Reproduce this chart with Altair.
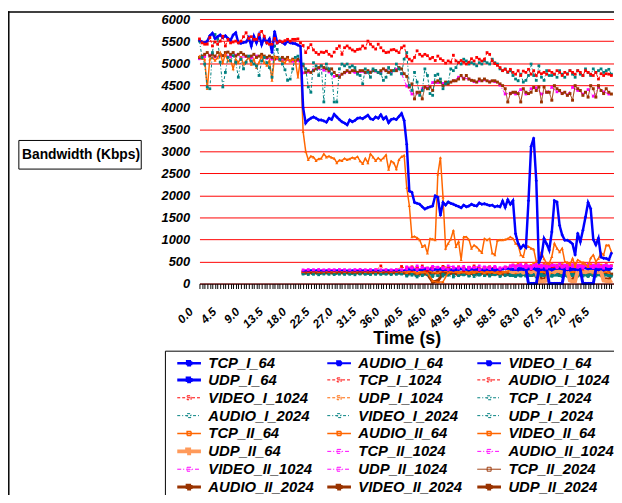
import altair as alt
import pandas as pd

SERIES = ["TCP_I_64", "AUDIO_I_64", "VIDEO_I_64", "UDP_I_64",
          "TCP_I_1024", "AUDIO_I_1024", "VIDEO_I_1024", "UDP_I_1024",
          "TCP_I_2024", "AUDIO_I_2024", "VIDEO_I_2024", "UDP_I_2024",
          "TCP_II_64", "AUDIO_II_64", "VIDEO_II_64", "UDP_II_64",
          "TCP_II_1024", "AUDIO_II_1024", "VIDEO_II_1024", "UDP_II_1024",
          "TCP_II_2024", "AUDIO_II_2024", "VIDEO_II_2024", "UDP_II_2024"]
COLORS = ["#0000FF"] * 4 + ["#FF0000"] * 3 + ["#FF6600"] + ["#008080"] * 4 + \
         ["#FF6600"] * 3 + ["#FF9A5A"] + ["#FF00FF"] * 4 + ["#993300"] * 4
WIDTHS = [2.5, 2, 2, 3] + [1] * 4 + [1] * 4 + [1.5, 1.5, 1.5, 4] + [1] * 4 + [1, 3, 3, 3]
DASHES = [[1, 0]] * 4 + [[3, 2]] * 4 + [[3, 2, 1, 2]] * 4 + [[1, 0]] * 4 + \
         [[4, 2, 1, 2]] * 4 + [[1, 0]] * 4
SHAPES = ["diamond"] * 4 + ["square"] * 8 + ["triangle-up"] * 4 + ["square"] * 8
MSIZES = [12, 9, 9, 12] + [8] * 8 + [10, 10, 10, 14] + [8] * 4 + [9, 12, 12, 12]

# main TCP flows, every 0.5 s from 0 to 79.5 s
TCP_I_64 = [
    5520, 5480, 5460, 5500, 5620, 5680, 5560, 5600, 5640, 5580,
    5620, 5560, 5520, 5640, 5690, 5460, 5450, 5470, 5480, 5580,
    5390, 5610, 5460, 5640, 5420, 5580, 5460, 5550, 5240, 5720,
    5460, 5500, 5470, 5430, 5500, 5460, 5450, 5440, 5410, 5380,
    3990, 3640, 3710, 3750, 3780, 3750, 3710, 3710, 3690, 3660,
    3750, 3720, 3840, 3780, 3720, 3670, 3640, 3600, 3710, 3670,
    3700, 3750, 3760, 3740, 3780, 3820, 3740, 3720, 3780, 3750,
    3830, 3730, 3780, 3650, 3720, 3740, 3720, 3790, 3860, 3700,
    3160, 2100, 2070, 1840, 1820, 1800, 1740, 1690, 1720, 1740,
    1760, 1990, 1960, 1550, 1840, 1780, 1850, 1820, 1800, 1770,
    1750, 1720, 1780, 1740, 1760, 1800, 1770, 1760, 1830, 1800,
    1810, 1790, 1770, 1780, 1740, 1760, 1740, 1870, 1730, 1900,
    1800, 1880, 1130, 910, 800, 870, 820, 1880, 3110, 3300,
    2330, 470, 610, 1020, 900, 760, 1170, 1880, 1850, 1320,
    1100, 985, 985, 950, 900, 650, 1140, 950, 1210, 1510,
    1840, 1700, 1000, 880, 1030, 600, 575, 570, 540, 690]
TCP_I_1024 = [
    5550, 5460, 5430, 5430, 5580, 5390, 5480, 5430, 5500, 5610,
    5390, 5540, 5460, 5480, 5500, 5460, 5500, 5600, 5690, 5560,
    5600, 5540, 5540, 5650, 5720, 5610, 5460, 5430, 5430, 5560,
    5460, 5500, 5480, 5510, 5540, 5500, 5540, 5540, 5550, 5460,
    5400, 5240, 5350, 5420, 5300, 5240, 5200, 5250, 5240, 5270,
    5200, 5160, 5250, 5330, 5390, 5200, 5350, 5390, 5340, 5300,
    5270, 5310, 5320, 5390, 5340, 5500, 5430, 5370, 5320, 5430,
    5350, 5280, 5240, 5250, 5300, 5310, 5280, 5240, 5350, 5390,
    5150, 5090, 5050, 5130, 5280, 5200, 5160, 5200, 5170, 5100,
    5130, 5060, 5160, 5100, 5060, 5000, 5050, 5020, 5180, 5050,
    5010, 5060, 5020, 4980, 5020, 5100, 5050, 5130, 5090, 5050,
    5090, 5240, 5200, 5050, 4990, 4950, 4900, 4830, 4860, 4800,
    4860, 4790, 4750, 4830, 4720, 4820, 4790, 4860, 4750, 4830,
    4720, 4800, 4760, 4790, 4750, 4830, 4790, 4750, 4830, 4790,
    4720, 4790, 4750, 4830, 4790, 4750, 4830, 4790, 4720, 4830,
    4790, 4750, 4720, 4790, 4640, 4760, 4720, 4760, 4750, 4720]
TCP_I_2024 = [
    5500, 5130, 4980, 4460, 4420, 5240, 5650, 5550, 5020, 4460,
    4790, 5130, 5050, 5170, 5020, 4680, 5090, 4870, 5020, 5160,
    5050, 4980, 4940, 4720, 5050, 5130, 5010, 4900, 4680, 5390,
    5310, 5090, 4980, 4850, 4610, 4640, 4870, 5130, 5160, 5050,
    4980, 4870, 4460, 4340, 5010, 4940, 4720, 4940, 4120, 4980,
    4870, 4760, 4120, 4120, 4870, 4980, 4940, 4980, 4910, 4940,
    4900, 4750, 4720, 4530, 4870, 4790, 4680, 4870, 4830, 4790,
    4760, 4610, 4680, 4900, 4750, 4830, 4980, 4870, 4760, 5090,
    5240, 4500, 4380, 4790, 4570, 4270, 4380, 4870, 4720, 4310,
    4270, 4720, 4750, 4640, 4420, 4530, 4570, 4870, 4830, 4900,
    5020, 4980, 5090, 5050, 4980, 5010, 4980, 4940, 5010, 4980,
    5050, 5010, 4980, 5090, 5010, 4980, 4870, 4830, 4870, 4790,
    4830, 4720, 4640, 4600, 4750, 4570, 4610, 4720, 4980, 4720,
    4610, 4940, 4680, 4610, 4830, 4720, 4720, 4750, 4680, 4830,
    4750, 4680, 4760, 4830, 4750, 4680, 4830, 4750, 4720, 4870,
    4790, 4720, 4870, 4790, 4830, 4870, 4790, 4830, 4860, 4750]
TCP_II_64 = [
    5160, 5100, 5090, 4420, 5090, 5130, 5060, 5120, 5240, 5010,
    5200, 5050, 5080, 4870, 5090, 5010, 5130, 4980, 5050, 5130,
    4970, 5090, 4900, 5020, 5160, 5010, 4950, 5060, 4610, 5160,
    5120, 5060, 5040, 5010, 5100, 5050, 5080, 5060, 4680, 5090,
    3450, 3000, 2810, 2890, 2870, 2790, 2830, 2840, 2940, 2870,
    2890, 2860, 2840, 2740, 2800, 2790, 2840, 2810, 2830, 2860,
    2840, 2880, 2780, 2720, 2840, 2740, 2940, 2870, 2790, 2850,
    2800, 2850, 2920, 2590, 2780, 2740, 2600, 2810, 2880, 2910,
    2180, 1770, 1060, 1070, 1040, 990, 840, 870, 690, 1020,
    1010, 990, 2480, 2860, 1960, 800, 910, 1010, 1210, 840,
    950, 540, 1060, 1060, 1000, 800, 870, 830, 760, 700,
    1020, 990, 1020, 690, 650, 980, 990, 990, 1000, 1020,
    1060, 1020, 910, 870, 650, 610, 870, 840, 800, 780,
    500, 530, 720, 560, 460, 460, 610, 910, 800, 720,
    800, 500, 480, 430, 570, 390, 540, 500, 460, 440,
    390, 580, 650, 500, 570, 700, 650, 870, 870, 720]
TCP_II_2024 = [
    5130, 5160, 5200, 5240, 5160, 5200, 5160, 5240, 5200, 5170,
    5240, 5250, 5200, 5240, 5160, 5200, 5240, 5200, 5160, 5130,
    5160, 5200, 5130, 5160, 5200, 5160, 5130, 5160, 5130, 5090,
    5130, 5090, 5130, 5090, 5130, 5050, 5090, 5050, 5090, 5050,
    4950, 4790, 4830, 4790, 4830, 4870, 4900, 4940, 4900, 4870,
    4830, 4870, 4790, 4720, 4680, 4750, 4790, 4830, 4790, 4830,
    4830, 4790, 4830, 4830, 4790, 4830, 4790, 4830, 4830, 4790,
    4830, 4870, 4830, 4790, 4830, 4830, 4830, 4900, 4870, 4760,
    4700, 4460, 4530, 4190, 4340, 4340, 4190, 4460, 4420, 4460,
    4380, 4570, 4600, 4570, 4490, 4570, 4530, 4570, 4600, 4600,
    4640, 4720, 4640, 4720, 4640, 4610, 4600, 4570, 4640, 4600,
    4640, 4600, 4570, 4600, 4600, 4570, 4530, 4490, 4420, 4120,
    4310, 4340, 4340, 4310, 4120, 4420, 4340, 4310, 4340, 4450,
    4380, 4460, 4120, 4460, 4340, 4340, 4160, 4490, 4420, 4380,
    4310, 4340, 4270, 4310, 4160, 4490, 4420, 4380, 4270, 4340,
    4230, 4490, 4420, 4230, 4490, 4380, 4310, 4420, 4340, 4300]
# every 1 s from 0 to 79 s
TCP_II_1024 = [
    5100, 5150, 5180, 5140, 5170, 5200, 5150, 5180, 5130, 5150,
    5120, 5160, 5140, 5110, 5090, 5100, 5060, 5080, 5040, 5060,
    4780, 4800, 4850, 4880, 4840, 4800, 4700, 4720, 4780, 4800,
    4790, 4810, 4780, 4800, 4820, 4790, 4840, 4800, 4860, 4760,
    4480, 4300, 4320, 4420, 4440, 4560, 4560, 4540, 4560, 4600,
    4680, 4660, 4640, 4580, 4600, 4620, 4580, 4580, 4500, 4300,
    4320, 4300, 4400, 4300, 4420, 4440, 4300, 4340, 4450, 4350,
    4320, 4280, 4450, 4380, 4300, 4400, 4250, 4450, 4350, 4300]

# audio flows, every 1 s from 20 to 79 s
AUDIO_I_64 = [
    290, 300, 305, 300, 298, 302, 300, 305, 300, 298, 302, 305, 300, 303, 300, 298, 305, 300, 302, 300,
    310, 320, 300, 315, 330, 305, 320, 310, 325, 300, 315, 330, 310, 320, 305, 325, 315, 300, 320, 330,
    340, 320, 350, 310, 330, 360, 320, 340, 300, 350, 330, 310, 345, 320, 360, 330, 340, 310, 350, 330]
AUDIO_I_1024 = [
    280, 285, 290, 285, 288, 282, 290, 285, 288, 290, 285, 288, 292, 285, 290, 400, 288, 285, 290, 388,
    330, 300, 350, 310, 290, 340, 320, 300, 360, 310, 330, 290, 350, 320, 300, 340, 310, 330, 300, 350,
    360, 330, 380, 340, 320, 370, 350, 330, 390, 340, 360, 320, 370, 350, 330, 380, 340, 360, 330, 370]
AUDIO_I_2024 = [
    215, 205, 210, 200, 215, 210, 205, 212, 208, 210, 200, 215, 210, 205, 210, 208, 212, 205, 210, 215,
    190, 210, 180, 200, 220, 195, 185, 210, 200, 190, 215, 200, 185, 205, 210, 195, 200, 215, 190, 205,
    200, 180, 215, 190, 205, 170, 210, 195, 185, 220, 200, 175, 210, 195, 185, 205, 190, 215, 200, 180]
AUDIO_II_64 = [
    270, 275, 280, 272, 278, 275, 270, 280, 275, 278, 272, 280, 275, 270, 278, 275, 280, 272, 275, 278,
    260, 290, 250, 280, 300, 260, 240, 290, 270, 300, 260, 280, 250, 300, 270, 260, 290, 250, 280, 270,
    300, 260, 320, 280, 250, 330, 270, 300, 260, 310, 280, 250, 320, 270, 300, 260, 290, 330, 270, 300]
AUDIO_II_1024 = [
    310, 318, 315, 320, 312, 318, 315, 320, 316, 312, 318, 322, 315, 318, 320, 315, 318, 312, 320, 318,
    330, 350, 320, 360, 340, 330, 370, 340, 320, 350, 360, 330, 340, 370, 320, 350, 340, 360, 330, 350,
    380, 350, 400, 360, 340, 390, 370, 350, 410, 360, 380, 340, 390, 370, 350, 400, 360, 380, 350, 390]
AUDIO_II_2024 = [
    245, 240, 248, 242, 245, 250, 240, 245, 248, 242, 245, 240, 248, 245, 242, 250, 245, 240, 248, 245,
    230, 250, 220, 240, 260, 230, 250, 210, 240, 255, 230, 245, 220, 250, 235, 260, 225, 245, 240, 230,
    240, 220, 260, 230, 250, 200, 240, 260, 220, 250, 230, 210, 255, 240, 220, 260, 230, 250, 215, 245]

# video flows, every 1 s from 40 to 79 s
VIDEO_I_64 = [
    320, 340, 300, 330, 350, 310, 340, 320, 300, 330, 345, 320, 310, 340, 330, 300, 325, 345, 315, 335,
    350, 320, 370, 330, 360, 300, 340, 380, 320, 350, 330, 370, 340, 310, 360, 330, 350, 320, 370, 340]
VIDEO_I_1024 = [
    360, 380, 340, 400, 350, 370, 330, 390, 360, 340, 380, 350, 370, 400, 340, 360, 380, 350, 330, 370,
    380, 400, 360, 420, 370, 390, 350, 410, 380, 360, 400, 370, 390, 350, 410, 380, 360, 400, 370, 390]
VIDEO_I_2024 = [
    170, 190, 150, 180, 200, 160, 180, 170, 190, 150, 180, 200, 170, 160, 190, 180, 170, 200, 160, 180,
    180, 160, 200, 170, 190, 150, 180, 210, 170, 190, 160, 200, 180, 170, 190, 160, 180, 200, 170, 190]
VIDEO_II_64 = [
    250, 270, 230, 260, 240, 60, 30, 40, 250, 270, 240, 260, 230, 250, 270, 240, 260, 250, 230, 260,
    270, 240, 280, 250, 260, 250, 270, 240, 260, 280, 250, 240, 270, 260, 250, 280, 240, 260, 270, 250]
VIDEO_II_1024 = [
    380, 360, 400, 370, 350, 390, 370, 360, 400, 380, 350, 390, 370, 360, 400, 380, 370, 390, 360, 380,
    400, 380, 420, 390, 370, 410, 390, 380, 420, 400, 370, 410, 390, 380, 420, 400, 390, 410, 380, 400]
VIDEO_II_2024 = [
    220, 240, 200, 230, 210, 40, 60, 230, 220, 240, 200, 230, 250, 210, 220, 240, 200, 230, 220, 210,
    200, 230, 210, 240, 190, 220, 230, 200, 240, 210, 220, 190, 230, 210, 240, 200, 220, 230, 210, 200]

# UDP flows, every 0.5 s from 60 to 79.5 s
UDP_I_64 = [
    330, 320, 340, 310, 330, 320, 340, 0, 0, 0, 0, 310, 330, 320, 340, 0, 0, 0, 0, 0,
    0, 320, 340, 310, 330, 320, 340, 310, 0, 0, 0, 0, 0, 330, 320, 340, 310, 330, 320, 340]
UDP_I_1024 = [
    380, 420, 360, 450, 400, 370, 430, 390, 410, 460, 380, 420, 400, 440, 370, 410, 450, 390, 420, 380,
    430, 400, 460, 380, 410, 440, 390, 420, 470, 400, 380, 430, 410, 450, 390, 420, 400, 440, 380, 410]
UDP_I_2024 = [
    200, 180, 210, 190, 170, 200, 220, 180, 190, 210, 170, 200, 190, 180, 210, 200, 170, 190, 220, 180,
    200, 190, 170, 210, 180, 200, 190, 220, 170, 200, 180, 210, 190, 170, 200, 210, 180, 190, 200, 170]
UDP_II_64 = [
    280, 260, 300, 270, 290, 250, 280, 300, 260, 290, 270, 60, 50, 60, 70, 270, 290, 260, 300, 280,
    260, 290, 270, 70, 50, 60, 280, 300, 270, 260, 290, 280, 270, 300, 260, 280, 70, 60, 50, 60]
UDP_II_1024 = [
    400, 420, 380, 410, 430, 390, 420, 400, 380, 410, 440, 390, 420, 400, 430, 380, 410, 420, 390, 440,
    400, 420, 380, 410, 430, 390, 420, 400, 380, 410, 440, 390, 420, 400, 430, 380, 410, 420, 390, 400]
UDP_II_2024 = [
    220, 200, 230, 210, 190, 220, 200, 230, 210, 200, 220, 190, 100, 90, 210, 220, 200, 230, 210, 190,
    220, 200, 230, 100, 80, 210, 220, 200, 230, 210, 190, 220, 200, 230, 210, 200, 90, 100, 80, 210]

TICKS = [i * 0.5 for i in range(160)]
YTICKS = list(range(0, 6001, 500))

rows = []


def add(name, start, step, vals):
    for i, v in enumerate(vals):
        rows.append({"series": name, "t": start + i * step, "v": v})


add("TCP_I_64", 0, 0.5, TCP_I_64)
add("TCP_I_1024", 0, 0.5, TCP_I_1024)
add("TCP_I_2024", 0, 0.5, TCP_I_2024)
add("TCP_II_64", 0, 0.5, TCP_II_64)
add("TCP_II_2024", 0, 0.5, TCP_II_2024)
add("TCP_II_1024", 0, 1, TCP_II_1024)
add("AUDIO_I_64", 20, 1, AUDIO_I_64)
add("AUDIO_I_1024", 20, 1, AUDIO_I_1024)
add("AUDIO_I_2024", 20, 1, AUDIO_I_2024)
add("AUDIO_II_64", 20, 1, AUDIO_II_64)
add("AUDIO_II_1024", 20, 1, AUDIO_II_1024)
add("AUDIO_II_2024", 20, 1, AUDIO_II_2024)
add("VIDEO_I_64", 40, 1, VIDEO_I_64)
add("VIDEO_I_1024", 40, 1, VIDEO_I_1024)
add("VIDEO_I_2024", 40, 1, VIDEO_I_2024)
add("VIDEO_II_64", 40, 1, VIDEO_II_64)
add("VIDEO_II_1024", 40, 1, VIDEO_II_1024)
add("VIDEO_II_2024", 40, 1, VIDEO_II_2024)
add("UDP_I_64", 60, 0.5, UDP_I_64)
add("UDP_I_1024", 60, 0.5, UDP_I_1024)
add("UDP_I_2024", 60, 0.5, UDP_I_2024)
add("UDP_II_64", 60, 0.5, UDP_II_64)
add("UDP_II_1024", 60, 0.5, UDP_II_1024)
add("UDP_II_2024", 60, 0.5, UDP_II_2024)
df = pd.DataFrame(rows)

FONT = "Liberation Sans"

width_expr = ""
for s, w in zip(SERIES, WIDTHS):
    width_expr += f"datum.value === '{s}' ? {w} : "
width_expr += "1"

legend = alt.Legend(
    title=None, orient="none", legendX=-35, legendY=336, columns=3, direction="horizontal",
    symbolType="M0.2,0H5M2.2,-0.4H3V0.4H2.2Z", symbolSize=100,
    symbolStrokeWidth={"expr": width_expr},
    labelFont=FONT, labelFontSize=15, labelFontStyle="italic", labelFontWeight="bold",
    labelColor="black", labelOffset=25, labelLimit=300,
    columnPadding=5, rowPadding=-2.9, padding=4, gridAlign="all",
    strokeColor="black", fillColor="white",
)

x_axis = alt.Axis(
    values=TICKS,
    labelExpr="datum.value % 4.5 === 0 ? format(datum.value, '.1f') : ''",
    labelAngle=-45, labelAlign="right", labelBaseline="middle",
    labelOffset=-9, labelPadding=21, labelFont=FONT, labelFontSize=12,
    labelFontStyle="italic", labelFontWeight="bold", labelColor="black",
    labelOverlap=False, labelFlush=False, labelBound=False,
    tickSize=5, tickColor="black", tickWidth=1, domainColor="black", domainWidth=1,
    grid=False, zindex=1,
    title="Time (s)", titleFont=FONT, titleFontSize=18, titleFontWeight="bold",
    titleColor="black", titleX=210, titleY=56, titleBaseline="middle", titleAlign="center",
)
y_axis = alt.Axis(
    values=YTICKS, format="d", grid=True, gridColor="#FF0000", gridWidth=1,
    domain=False, ticks=False, tickSize=0, labelPadding=10,
    labelFont=FONT, labelFontSize=13, labelFontStyle="italic", labelFontWeight="bold",
    labelColor="black", title=None,
)

X = alt.X("t:Q", scale=alt.Scale(domain=[0, 80], nice=False, zero=False), axis=x_axis)
Y = alt.Y("v:Q", scale=alt.Scale(domain=[0, 6000], nice=False), axis=y_axis)
STROKE = alt.Stroke("series:N", scale=alt.Scale(domain=SERIES, range=COLORS), legend=legend)
DASH = alt.StrokeDash("series:N", scale=alt.Scale(domain=SERIES, range=DASHES), legend=legend)

ORDER = ["AUDIO_II_2024", "VIDEO_II_2024", "UDP_II_2024", "AUDIO_I_2024", "VIDEO_I_2024",
         "UDP_I_2024", "AUDIO_II_64", "VIDEO_II_64", "UDP_II_64", "UDP_I_1024",
         "AUDIO_I_1024", "VIDEO_I_1024", "AUDIO_I_64", "VIDEO_I_64", "UDP_I_64",
         "AUDIO_II_1024", "VIDEO_II_1024", "UDP_II_1024", "TCP_II_1024", "TCP_II_2024",
         "TCP_II_64", "TCP_I_2024", "TCP_I_64", "TCP_I_1024"]

layers = []
for name in ORDER:
    k = SERIES.index(name)
    base = alt.Chart(df).transform_filter(alt.datum.series == name)
    layers.append(base.mark_line(strokeWidth=WIDTHS[k]).encode(x=X, y=Y, stroke=STROKE, strokeDash=DASH))
    layers.append(base.mark_point(filled=True, size=MSIZES[k], shape=SHAPES[k], color=COLORS[k],
                                  strokeWidth=0, opacity=1).encode(x=X, y=Y))

one = alt.Data(values=[{}])
box = alt.Chart(one).mark_rect(fill="white", stroke="black", strokeWidth=1).encode(
    x=alt.value(-183), x2=alt.value(-59), y=alt.value(123), y2=alt.value(152))
ytitle = alt.Chart(one).mark_text(font=FONT, fontSize=14, fontWeight="bold", color="black",
                                  align="center", baseline="middle").encode(
    x=alt.value(-120), y=alt.value(138), text=alt.value("Bandwidth (Kbps)"))
frame_top = alt.Chart(one).mark_rule(color="black", strokeWidth=1.5).encode(
    x=alt.value(-194), x2=alt.value(440), y=alt.value(-7.2))
frame_left = alt.Chart(one).mark_rule(color="black", strokeWidth=1.5).encode(
    x=alt.value(-193.2), y=alt.value(-8), y2=alt.value(490))

chart = alt.layer(box, ytitle, frame_top, frame_left, *layers).properties(
    width=420, height=268,
    padding={"left": 194, "top": 8, "right": 0, "bottom": 211},
    autosize=alt.AutoSizeParams(type="none"),
    background="white",
).configure_view(stroke=None)

chart.save("out.html", embed_options={"renderer": "svg", "actions": False})
